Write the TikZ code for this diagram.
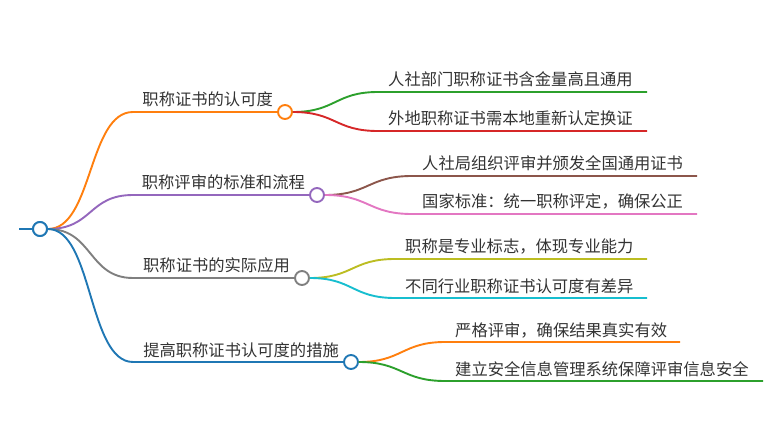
\documentclass[tikz,border=0pt]{standalone}
\usepackage{fontspec}
\setmainfont{Noto Sans CJK SC}
\usetikzlibrary{positioning}
\definecolor{cBlue}{HTML}{1F77B4}
\definecolor{cOrange}{HTML}{FF7F0E}
\definecolor{cGreen}{HTML}{2CA02C}
\definecolor{cRed}{HTML}{D62728}
\definecolor{cPurple}{HTML}{9467BD}
\definecolor{cBrown}{HTML}{8C564B}
\definecolor{cPink}{HTML}{E377C2}
\definecolor{cGray}{HTML}{7F7F7F}
\definecolor{cOlive}{HTML}{BCBD22}
\definecolor{cCyan}{HTML}{17BECF}
\definecolor{textgray}{HTML}{333333}
\begin{document}
\begin{tikzpicture}[
  x=1pt, y=-1pt,
  dot/.style={circle, draw, fill=white, line width=1.9pt, minimum size=14pt, inner sep=0pt},
  branch/.style={line width=1.9pt},
  lbl/.style={font=\fontsize{16.3}{18}\selectfont, text=textgray, inner sep=0pt, anchor=base west}
]
\useasboundingbox (0,0) rectangle (780,441);

% Root
\node[dot, draw=cBlue] (root) at (40,229) {};
\coordinate (stub) at (19,229);
\draw[branch, cBlue] (stub) -- (root);

% Main branches
\coordinate (h1) at (133,112);
\coordinate (h2) at (133,195);
\coordinate (h3) at (133,278);
\coordinate (h4) at (133,362);
\node[dot, draw=cOrange] (b1) at (285,112) {};
\node[dot, draw=cPurple] (b2) at (317,195) {};
\node[dot, draw=cGray] (b3) at (302,278) {};
\node[dot, draw=cBlue] (b4) at (351,362) {};

\draw[branch, cOrange] (root.east) .. controls +(45,0) and +(-45,0) .. (h1) -- (b1);
\draw[branch, cPurple] (root.east) .. controls +(45,0) and +(-45,0) .. (h2) -- (b2);
\draw[branch, cGray] (root.east) .. controls +(45,0) and +(-45,0) .. (h3) -- (b3);
\draw[branch, cBlue] (root.east) .. controls +(45,0) and +(-45,0) .. (h4) -- (b4);
\node[dot, draw=cBlue] at (root) {};

\node[lbl, anchor=base east] (t1) at ([shift={(-4,-6)}]b1.west) {职称证书的认可度};
\node[lbl, anchor=base east] (t2) at ([shift={(-4,-6)}]b2.west) {职称评审的标准和流程};
\node[lbl, anchor=base east] (t3) at ([shift={(-4,-6)}]b3.west) {职称证书的实际应用};
\node[lbl, anchor=base east] (t4) at ([shift={(-4,-6)}]b4.west) {提高职称证书认可度的措施};

% Leaves of branch 1
\coordinate (s11) at (378,92);  \coordinate (e11) at (647,92);
\coordinate (s12) at (378,131); \coordinate (e12) at (647,131);
\draw[branch, cGreen] (b1.east) .. controls +(43,0) and +(-43,0) .. (s11) -- (e11);
\draw[branch, cRed] (b1.east) .. controls +(43,0) and +(-43,0) .. (s12) -- (e12);
\node[lbl] (t11) at ([shift={(10,-6)}]s11) {人社部门职称证书含金量高且通用};
\node[lbl] (t12) at ([shift={(10,-6)}]s12) {外地职称证书需本地重新认定换证};

% Leaves of branch 2
\coordinate (s21) at (412,176); \coordinate (e21) at (697,176);
\coordinate (s22) at (412,214); \coordinate (e22) at (697,214);
\draw[branch, cBrown] (b2.east) .. controls +(44,0) and +(-44,0) .. (s21) -- (e21);
\draw[branch, cPink] (b2.east) .. controls +(44,0) and +(-44,0) .. (s22) -- (e22);
\node[lbl] (t21) at ([shift={(10,-6)}]s21) {人社局组织评审并颁发全国通用证书};
\node[lbl] (t22) at ([shift={(10,-6)}]s22) {国家标准：统一职称评定，确保公正};

% Leaves of branch 3
\coordinate (s31) at (395,259); \coordinate (e31) at (647,259);
\coordinate (s32) at (395,298); \coordinate (e32) at (647,298);
\draw[branch, cOlive] (b3.east) .. controls +(43,0) and +(-43,0) .. (s31) -- (e31);
\draw[branch, cCyan] (b3.east) .. controls +(43,0) and +(-43,0) .. (s32) -- (e32);
\node[lbl] (t31) at ([shift={(10,-6)}]s31) {职称是专业标志，体现专业能力};
\node[lbl] (t32) at ([shift={(10,-6)}]s32) {不同行业职称证书认可度有差异};

% Leaves of branch 4
\coordinate (s41) at (445,342); \coordinate (e41) at (680,342);
\coordinate (s42) at (445,381); \coordinate (e42) at (763,381);
\draw[branch, cOrange] (b4.east) .. controls +(43,0) and +(-43,0) .. (s41) -- (e41);
\draw[branch, cGreen] (b4.east) .. controls +(43,0) and +(-43,0) .. (s42) -- (e42);
\node[lbl] (t41) at ([shift={(10,-6)}]s41) {严格评审，确保结果真实有效};
\node[lbl] (t42) at ([shift={(10,-6)}]s42) {建立安全信息管理系统保障评审信息安全};
\end{tikzpicture}
\end{document}
